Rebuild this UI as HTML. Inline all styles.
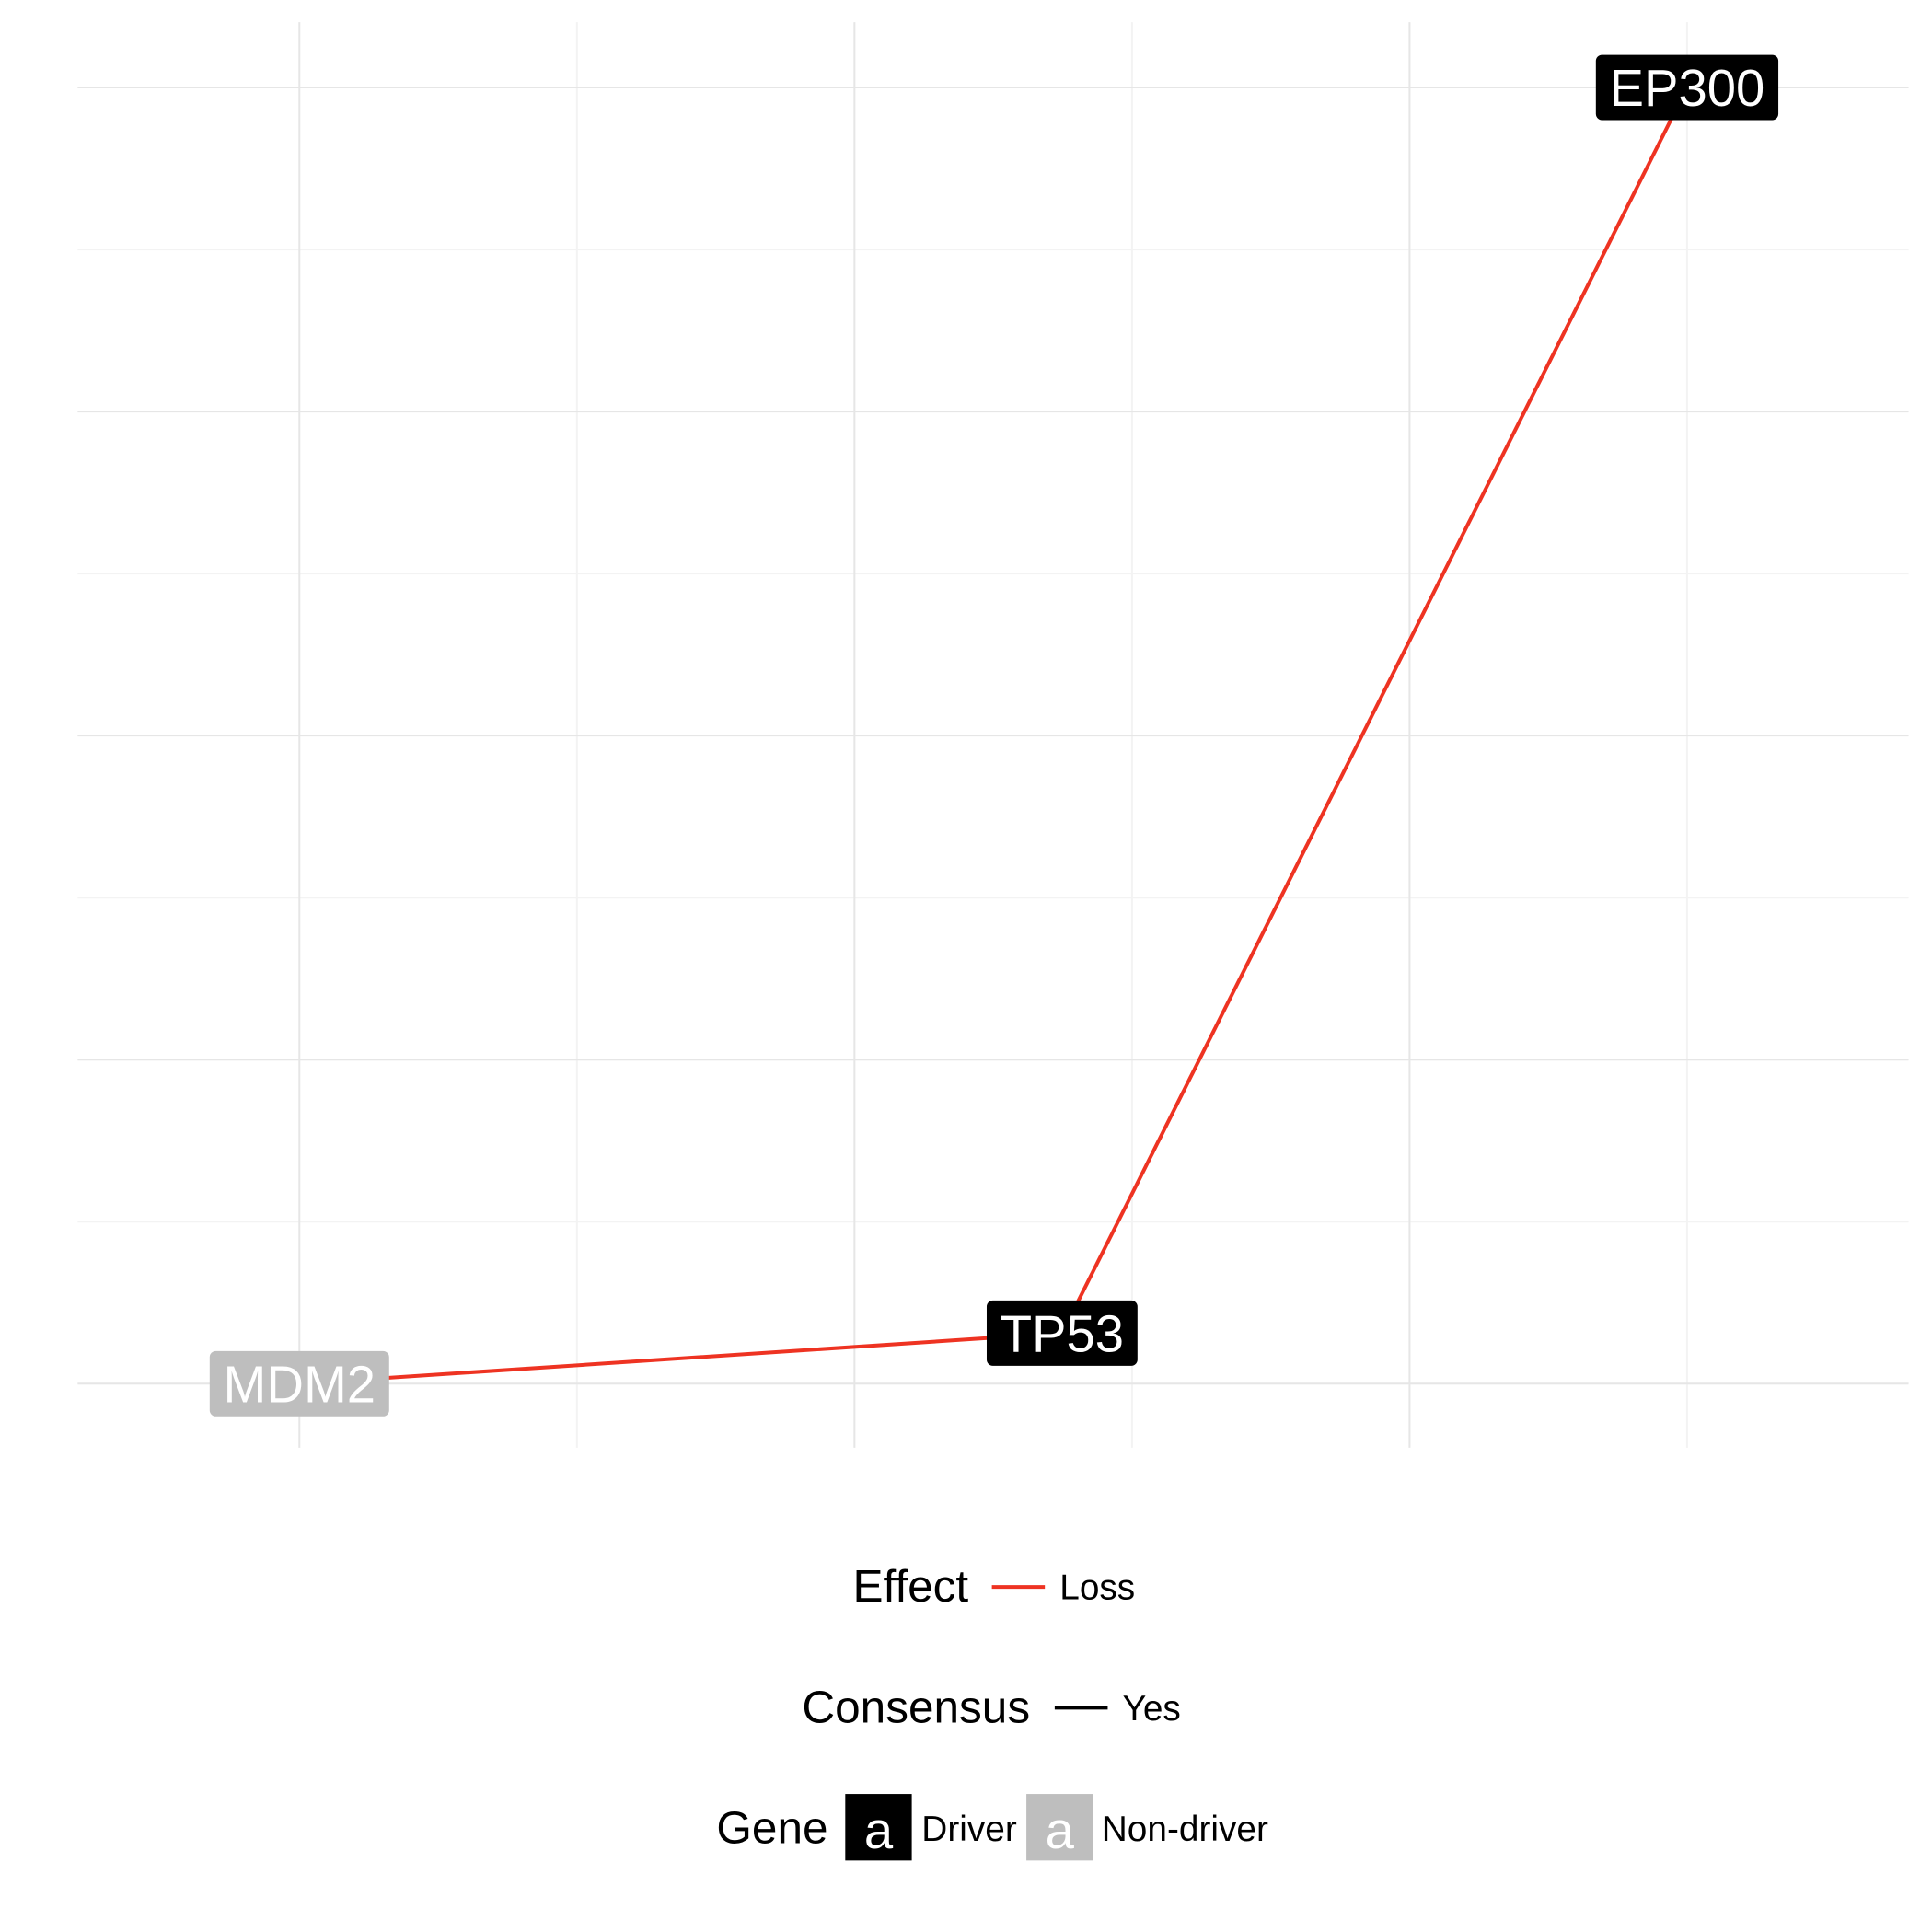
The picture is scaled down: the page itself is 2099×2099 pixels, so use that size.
<!DOCTYPE html>
<html><head><meta charset="utf-8"><style>
html,body{margin:0;padding:0;background:#fff;}
svg{display:block;font-family:"Liberation Sans",sans-serif;}
</style></head><body>
<svg id="chart" width="2099" height="2099" viewBox="0 0 1568 1568">
<g id="grid"></g>
<g id="edges"></g>
<g id="nodes"></g>
<g>
  <g>
    <text x="786" y="1300" font-size="37" text-anchor="end" fill="#000">Effect</text>
    <line x1="805" y1="1288" x2="848" y2="1288" stroke="#ee3322" stroke-width="3"/>
    <text x="860" y="1298" font-size="29" fill="#000">Loss</text>
  </g>
  <g>
    <text x="836" y="1398" font-size="37" text-anchor="end" fill="#000">Consensus</text>
    <line x1="856" y1="1386" x2="899" y2="1386" stroke="#000" stroke-width="3"/>
    <text x="911" y="1396" font-size="29" fill="#000">Yes</text>
  </g>
  <g>
    <text x="672" y="1496" font-size="37" text-anchor="end" fill="#000">Gene</text>
    <rect x="686" y="1456" width="54" height="54" fill="#000"/>
    <text x="713" y="1500" font-size="42" text-anchor="middle" fill="#fff">a</text>
    <text x="748" y="1494" font-size="29" fill="#000">Driver</text>
    <rect x="833" y="1456" width="54" height="54" fill="#bebebe"/>
    <text x="860" y="1500" font-size="42" text-anchor="middle" fill="#fff">a</text>
    <text x="894" y="1494" font-size="29" fill="#000">Non-driver</text>
  </g>
</g>
</svg>
<script>
const genes = ["MDM2","TP53","EP300"];
const xVals = [0, 1.374, 2.5];
const yVals = [0, 0.156, 4];
const driver = [false, true, true];
const edgeFrom = [0, 1];
const edgeTo = [1, 2];
const xMajor = [0,1,2];
const xMinor = [0.5,1.5,2.5];
const yMajor = [0,1,2,3,4];
const yMinor = [0.5,1.5,2.5,3.5];

const NS="http://www.w3.org/2000/svg";
const px0=63, px1=1549, py0=18, py1=1175;
const sx = v => 243 + v*450.5;
const sy = v => 1123 - v*263;
function mk(t,a){const e=document.createElementNS(NS,t);for(const k in a)e.setAttribute(k,a[k]);return e;}
const grid=document.getElementById('grid');
xMinor.forEach(v=>{const l=mk('line',{x1:sx(v),x2:sx(v),y1:py0,y2:py1,stroke:'#f3f3f3','stroke-width':1.5});

grid.appendChild(l);});
yMinor.forEach(v=>{const l=mk('line',{x1:px0,x2:px1,y1:sy(v),y2:sy(v),stroke:'#f3f3f3','stroke-width':1.5});

grid.appendChild(l);});
xMajor.forEach(v=>{const l=mk('line',{x1:sx(v),x2:sx(v),y1:py0,y2:py1,stroke:'#e6e6e6','stroke-width':1.5});

grid.appendChild(l);});
yMajor.forEach(v=>{const l=mk('line',{x1:px0,x2:px1,y1:sy(v),y2:sy(v),stroke:'#e6e6e6','stroke-width':1.5});

grid.appendChild(l);});
const edges=document.getElementById('edges');
edgeFrom.forEach((f,i)=>{const t=edgeTo[i];
const l=mk('line',{x1:sx(xVals[f]),y1:sy(yVals[f]),x2:sx(xVals[t]),y2:sy(yVals[t]),stroke:'#ee3322','stroke-width':3});

edges.appendChild(l);});
const nodes=document.getElementById('nodes');
genes.forEach((g,i)=>{
 const cx=sx(xVals[i]), cy=sy(yVals[i]);
 const grp=mk('g',{});
 
 
 const r=mk('rect',{rx:5,fill:driver[i]?'#000':'#bebebe'});
 grp.appendChild(r);
 const t=mk('text',{x:cx,y:cy+15,'font-size':42,'text-anchor':'middle',fill:'#fff'});
 t.textContent=g;grp.appendChild(t);nodes.appendChild(grp);
 const w=t.getComputedTextLength()+22, h=53;
 r.setAttribute('x',cx-w/2);r.setAttribute('y',cy-h/2);
 r.setAttribute('width',w);r.setAttribute('height',h);
});
</script>
</body></html>
